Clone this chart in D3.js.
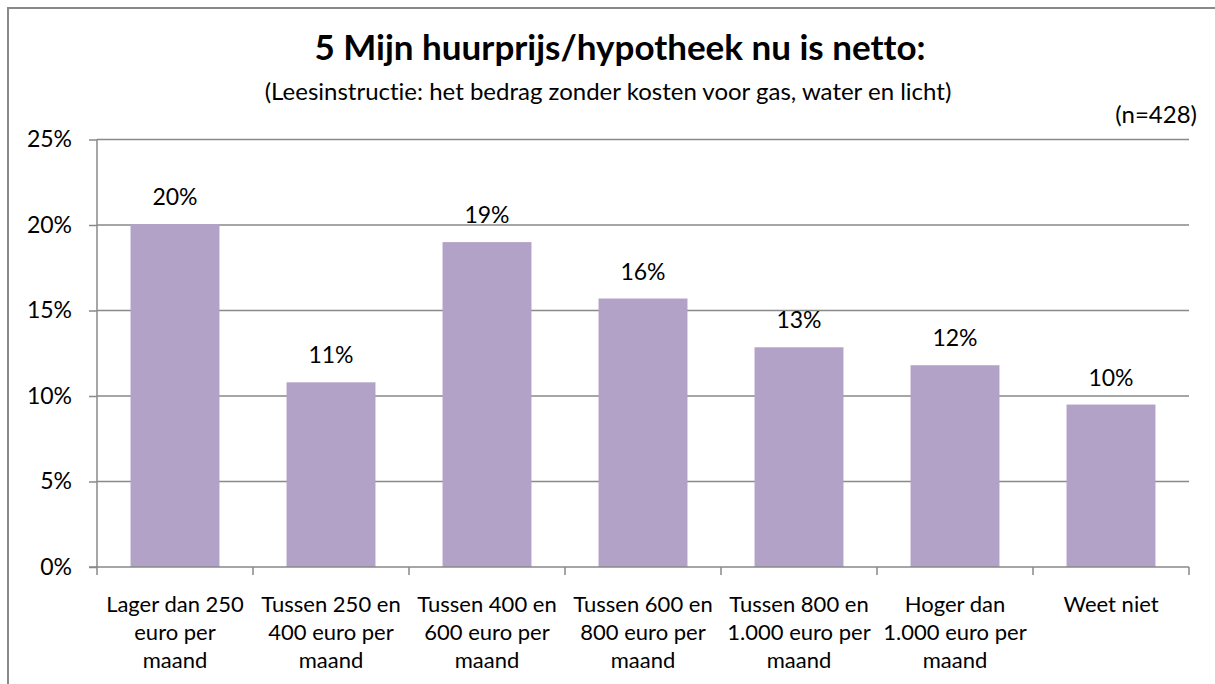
<!DOCTYPE html>
<html>
<head>
<meta charset="utf-8">
<script src="https://cdn.jsdelivr.net/npm/d3@7"></script>
<style>
  body { margin: 0; background: #fff; }
  text { font-family: Lato, "Open Sans", sans-serif; fill: #000; font-variant-ligatures: none; }
</style>
</head>
<body>
<div id="wrapper"></div>
<script>
// data
const categories = [
    ["Lager dan 250", "euro per", "maand"],
    ["Tussen 250 en", "400 euro per", "maand"],
    ["Tussen 400 en", "600 euro per", "maand"],
    ["Tussen 600 en", "800 euro per", "maand"],
    ["Tussen 800 en", "1.000 euro per", "maand"],
    ["Hoger dan", "1.000 euro per", "maand"],
    ["Weet niet"]
];
const values = [20.05, 10.8, 19.0, 15.7, 12.85, 11.8, 9.5];
const valueLabels = ["20%", "11%", "19%", "16%", "13%", "12%", "10%"];
const yTicks = [0, 5, 10, 15, 20, 25];

const title = "5 Mijn huurprijs/hypotheek nu is netto:";
const subtitle = "(Leesinstructie: het bedrag zonder kosten voor gas, water en licht)";
const note = "(n=428)";

function buildChart() {
    var dimension = {
        width: 1215,
        height: 684,
        margin: { top: 139.5, left: 97, bottom: 117, right: 26 }
    };
    dimension.boundedWidth = dimension.width - dimension.margin.left - dimension.margin.right;
    dimension.boundedHeight = dimension.height - dimension.margin.top - dimension.margin.bottom;

    const wrapper = d3.select("#wrapper")
        .append("svg")
        .attr("width", dimension.width)
        .attr("height", dimension.height);

    // outer chart frame (runs past the right/bottom edge)
    wrapper.append("rect")
        .attr("x", 8)
        .attr("y", 8)
        .attr("width", 1240)
        .attr("height", 700)
        .attr("fill", "none")
        .attr("stroke", "#898989")
        .attr("stroke-width", 2);

    wrapper.append("text")
        .attr("x", 620)
        .attr("y", 60)
        .attr("text-anchor", "middle")
        .attr("font-size", "35px")
        .attr("font-weight", "bold")
        .text(title);

    wrapper.append("text")
        .attr("x", 608)
        .attr("y", 100)
        .attr("text-anchor", "middle")
        .attr("font-size", "24px")
        .text(subtitle);

    wrapper.append("text")
        .attr("x", 1197)
        .attr("y", 123)
        .attr("text-anchor", "end")
        .attr("font-size", "24px")
        .text(note);

    const bounds = wrapper.append("g")
        .attr("transform", `translate(${dimension.margin.left},${dimension.margin.top})`);

    const xScaler = d3.scaleBand()
        .domain(d3.range(categories.length))
        .range([0, dimension.boundedWidth])
        .paddingInner(0.43)
        .paddingOuter(0.215);

    const yScaler = d3.scaleLinear()
        .domain([0, 25])
        .range([dimension.boundedHeight, 0]);

    // gridlines
    bounds.append("g")
        .selectAll("line")
        .data(yTicks.filter(d => d > 0))
        .enter()
        .append("line")
        .attr("x1", 0)
        .attr("x2", dimension.boundedWidth)
        .attr("y1", d => yScaler(d))
        .attr("y2", d => yScaler(d))
        .attr("stroke", "#898989")
        .attr("stroke-width", 1.5);

    // bars
    bounds.append("g")
        .selectAll("rect")
        .data(values)
        .enter()
        .append("rect")
        .attr("x", (d, i) => xScaler(i))
        .attr("y", d => yScaler(d))
        .attr("width", xScaler.bandwidth())
        .attr("height", d => dimension.boundedHeight - yScaler(d))
        .attr("fill", "#B3A2C7");

    // value labels
    bounds.append("g")
        .selectAll("text")
        .data(values)
        .enter()
        .append("text")
        .attr("x", (d, i) => xScaler(i) + xScaler.bandwidth() / 2)
        .attr("y", d => yScaler(d) - 19)
        .attr("text-anchor", "middle")
        .attr("font-size", "23px")
        .text((d, i) => valueLabels[i]);

    // y axis
    const yAxisGen = d3.axisLeft(yScaler)
        .tickValues(yTicks)
        .tickSize(8)
        .tickPadding(17)
        .tickFormat(d => d + "%");
    const yAxis = bounds.append("g").call(yAxisGen);
    yAxis.select(".domain").attr("stroke", "#898989").attr("stroke-width", 1.5).attr("d", `M0,${dimension.boundedHeight}V0`);
    yAxis.selectAll(".tick line").attr("stroke", "#898989").attr("stroke-width", 1.5);
    yAxis.selectAll(".tick text")
        .attr("font-size", "23px")
        .attr("font-family", "Lato, 'Open Sans', sans-serif")
        .attr("fill", "#000");

    // x axis: line with category boundary ticks
    const xAxis = bounds.append("g")
        .attr("transform", `translate(0,${dimension.boundedHeight})`);
    xAxis.append("line")
        .attr("x1", -8)
        .attr("x2", dimension.boundedWidth)
        .attr("stroke", "#898989")
        .attr("stroke-width", 1.5);
    const step = xScaler.step();
    const edges = d3.range(categories.length + 1).map(i => xScaler(0) - xScaler.paddingOuter() * step + i * step);
    xAxis.selectAll(".sep")
        .data(edges)
        .enter()
        .append("line")
        .attr("x1", d => d)
        .attr("x2", d => d)
        .attr("y1", 0)
        .attr("y2", 8)
        .attr("stroke", "#898989")
        .attr("stroke-width", 1.5);

    const catLabels = xAxis.selectAll(".cat")
        .data(categories)
        .enter()
        .append("text")
        .attr("class", "cat")
        .attr("x", (d, i) => xScaler(i) + xScaler.bandwidth() / 2)
        .attr("y", 0)
        .attr("text-anchor", "middle")
        .attr("font-size", "22px");
    catLabels.selectAll("tspan")
        .data(d => d)
        .enter()
        .append("tspan")
        .attr("x", function () { return d3.select(this.parentNode).attr("x"); })
        .attr("y", (d, i) => 45 + i * 28)
        .text(d => d);
}

buildChart();
</script>
</body>
</html>
